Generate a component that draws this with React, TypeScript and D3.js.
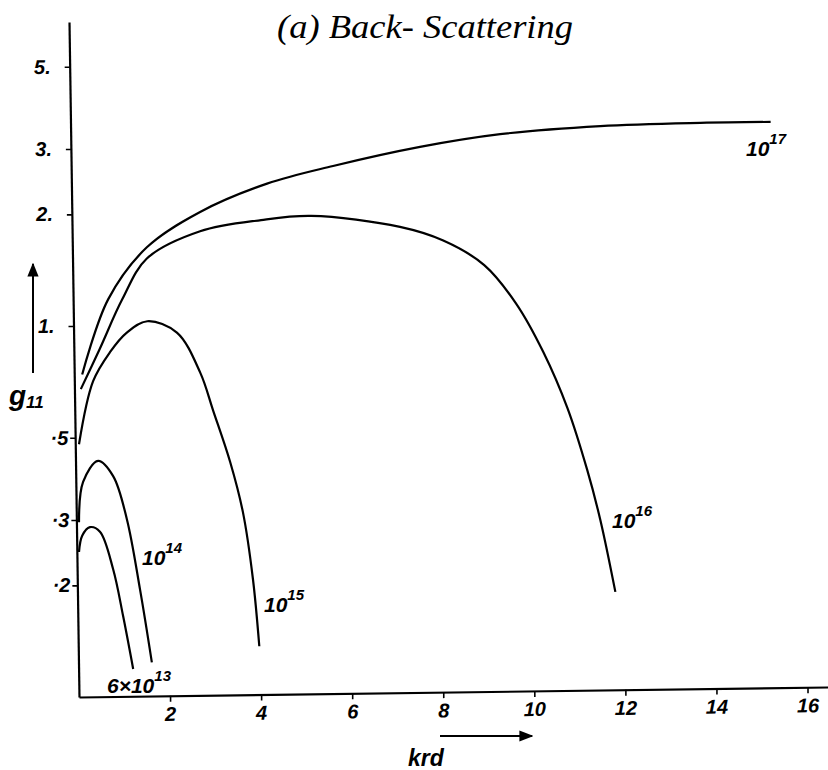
import React, { useEffect, useRef } from "react";
import * as d3 from "d3";

// g11 vs krd (log y axis)
const krd6e13 = [0, 0.07, 0.24, 0.46, 0.75, 0.97, 1.19];
const g6e13 = [0.246, 0.272, 0.287, 0.279, 0.221, 0.165, 0.119];

const krd1e14 = [0, 0.09, 0.42, 0.75, 1.05, 1.34, 1.6];
const g1e14 = [0.296, 0.38, 0.433, 0.394, 0.302, 0.195, 0.124];

const krd1e15 = [0, 0.31, 0.68, 1.05, 1.5, 2.15, 2.66, 2.95, 3.32, 3.6, 3.82, 3.96];
const g1e15 = [0.48, 0.71, 0.85, 0.96, 1.03, 0.96, 0.75, 0.59, 0.43, 0.315, 0.208, 0.137];

const krd1e16 = [0.04, 0.46, 0.95, 1.49, 2.66, 4.0, 5.1, 7.05, 8.0, 8.9, 9.6, 10.2, 10.73, 11.16, 11.45, 11.78];
const g1e16 = [0.676, 0.87, 1.18, 1.52, 1.8, 1.93, 1.98, 1.85, 1.7, 1.46, 1.15, 0.85, 0.6, 0.41, 0.3, 0.192];

const krd1e17 = [0.07, 0.64, 1.49, 2.66, 4.13, 5.58, 7.49, 9.25, 11.45, 13.65, 15.19];
const g1e17 = [0.74, 1.18, 1.63, 2.03, 2.42, 2.7, 3.04, 3.29, 3.46, 3.53, 3.55];

const seriesNames = ["6×10", "10", "10", "10", "10"];
const seriesExps = ["13", "14", "15", "16", "17"];

const xTicks = [2, 4, 6, 8, 10, 12, 14, 16];
const yTicks = [0.2, 0.3, 0.5, 1, 2, 3, 5];
const yTickLabels = ["·2", "·3", "·5", "1.", "2.", "3.", "5."];

// where each curve label sits (pixels)
const labelPos = [
  [107, 693],
  [142, 565],
  [264, 612],
  [612, 528],
  [746, 156],
];

const W = 828;
const H = 770;
const hand = "'Liberation Sans', Arial, sans-serif";

const App = () => {
  const xRef = useRef(null);
  const yRef = useRef(null);

  const x = d3.scaleLinear().domain([0, 16.45]).range([79, 828]);
  const y = d3.scaleLog().domain([0.1, 6.6]).range([697, 22]);

  const series = [
    [krd6e13, g6e13],
    [krd1e14, g1e14],
    [krd1e15, g1e15],
    [krd1e16, g1e16],
    [krd1e17, g1e17],
  ];

  const line = d3
    .line()
    .x(d => x(d[0]))
    .y(d => y(d[1]))
    .curve(d3.curveCatmullRom.alpha(0.5));

  useEffect(() => {
    const gx = d3.select(xRef.current);
    gx.call(
      d3
        .axisBottom(x)
        .tickValues(xTicks)
        .tickSize(6)
        .tickSizeOuter(0)
        .tickPadding(5)
        .tickFormat(d3.format("d"))
    );
    gx.select(".domain").attr("stroke-width", 2.2);
    gx.selectAll(".tick line").attr("stroke-width", 1.6);
    gx.selectAll("text")
      .attr("font-family", hand)
      .attr("font-style", "italic")
      .attr("font-weight", "bold")
      .attr("font-size", 20)
      .attr("fill", "#000");

    const gy = d3.select(yRef.current);
    gy.call(
      d3
        .axisLeft(y)
        .tickValues(yTicks)
        .tickSize(5)
        .tickSizeOuter(0)
        .tickPadding(2)
        .tickFormat((d, i) => yTickLabels[i])
    );
    gy.select(".domain").attr("stroke-width", 2.2);
    gy.selectAll(".tick line").attr("stroke-width", 1.6);
    gy.selectAll("text")
      .attr("font-family", hand)
      .attr("font-style", "italic")
      .attr("font-weight", "bold")
      .attr("font-size", 20)
      .attr("fill", "#000")
      .attr("dx", d => (d >= 1 ? -12 : 0));
  }, []);

  const kx = -10 / 749;
  const ky = 10 / 675;

  return (
    <svg
      width={W}
      height={H}
      style={{ position: "absolute", left: 0, top: 0, background: "#fff" }}
    >
      <defs>
        <marker id="arr" viewBox="0 0 10 10" refX="9" refY="5" markerWidth="7" markerHeight="7" orient="auto">
          <path d="M0,1 L10,5 L0,9 z" fill="#000" />
        </marker>
      </defs>

      <g ref={xRef} transform={`translate(0 ${697 - kx * 79}) skewY(${(Math.atan(kx) * 180) / Math.PI})`} />
      <g ref={yRef} transform={`translate(${79 - ky * 697} 0) skewX(${(Math.atan(ky) * 180) / Math.PI})`} />

      {series.map(([xs, ys], i) => (
        <path
          key={i}
          d={line(xs.map((v, j) => [v, ys[j]]))}
          fill="none"
          stroke="#000"
          strokeWidth={2.2}
        />
      ))}

      {labelPos.map(([lx, ly], i) => (
        <text key={i} x={lx} y={ly} fontFamily={hand} fontStyle="italic" fontWeight="bold" fontSize={21} fill="#000">
          {seriesNames[i]}
          <tspan dy={-12} fontSize={15}>
            {seriesExps[i]}
          </tspan>
        </text>
      ))}

      <text
        x={277}
        y={38}
        fontFamily="'Liberation Serif', serif"
        fontStyle="italic"
        fontSize={33}
        textLength={296}
        lengthAdjust="spacingAndGlyphs"
        fill="#000"
      >
        (a)  Back- Scattering
      </text>

      <line x1={33} y1={373} x2={33} y2={264} stroke="#000" strokeWidth={2} markerEnd="url(#arr)" />
      <text x={9} y={405} fontFamily={hand} fontStyle="italic" fontWeight="bold" fontSize={28} fill="#000">
        g
        <tspan dy={3} fontSize={17}>11</tspan>
      </text>

      <line x1={440} y1={736} x2={532} y2={736} stroke="#000" strokeWidth={2} markerEnd="url(#arr)" />
      <text x={408} y={766} fontFamily={hand} fontStyle="italic" fontWeight="bold" fontSize={23} fill="#000">
        krd
      </text>
    </svg>
  );
};

export default App;
